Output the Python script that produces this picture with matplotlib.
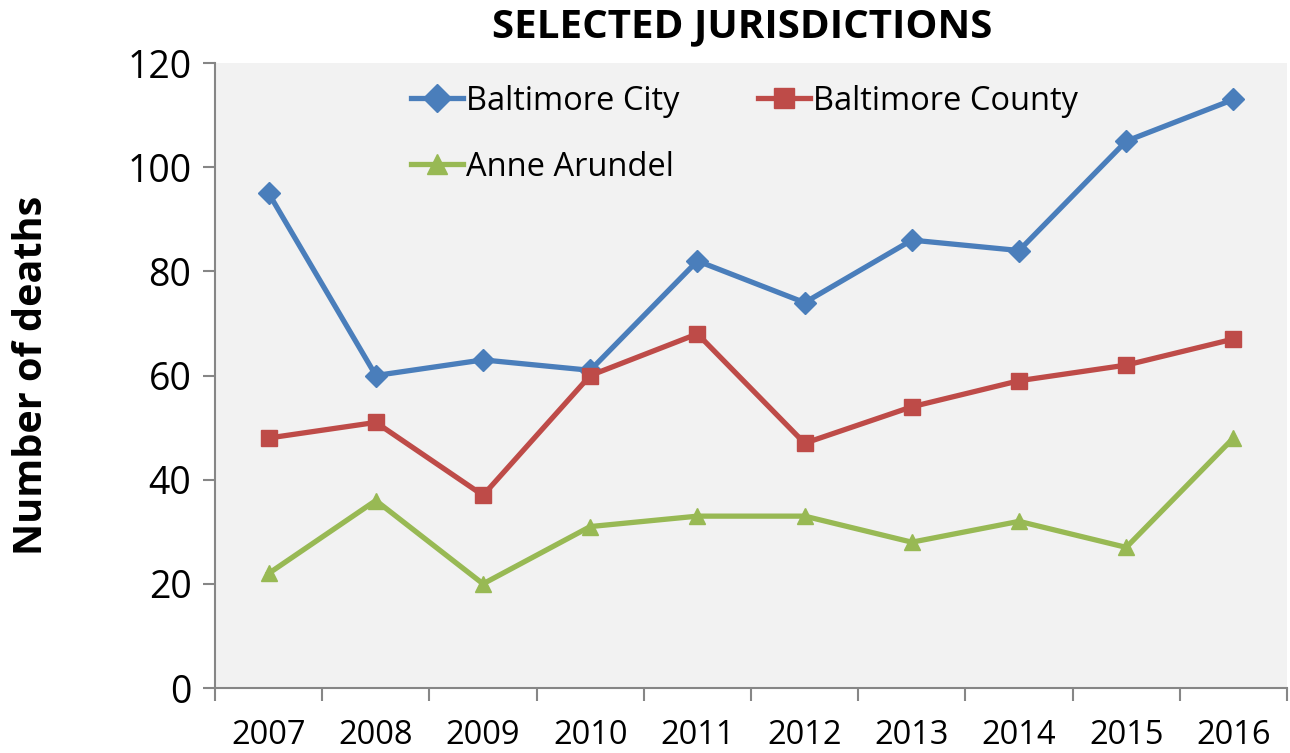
import numpy as np
import matplotlib.pyplot as plt

plt.rcParams['font.family'] = ['Open Sans', 'DejaVu Sans']

years = ['2007', '2008', '2009', '2010', '2011', '2012', '2013', '2014', '2015', '2016']
baltimore_city = [95, 60, 63, 61, 82, 74, 86, 84, 105, 113]
baltimore_county = [48, 51, 37, 60, 68, 47, 54, 59, 62, 67]
anne_arundel = [22, 36, 20, 31, 33, 33, 28, 32, 27, 48]

fig = plt.figure(figsize=(12.9, 7.53), dpi=100)
ax = fig.add_axes([0.1667, 0.0863, 0.831, 0.830])
ax.set_facecolor('#F2F2F2')

x = np.arange(len(years))
h1, = ax.plot(x, baltimore_city, '-D', color='#4A7EBB', lw=3.8, ms=11, label='Baltimore City')
h2, = ax.plot(x, baltimore_county, '-s', color='#BE4B48', lw=3.8, ms=11, label='Baltimore County')
h3, = ax.plot(x, anne_arundel, '-^', color='#98B954', lw=3.8, ms=12, label='Anne Arundel')

ax.set_xlim(-0.5, len(years) - 0.5)
ax.set_ylim(0, 120)
ax.set_yticks(range(0, 121, 20))
ax.tick_params(axis='y', labelsize=27, length=9, color='#868686', width=1.5, pad=8)
ax.set_xticks(x)
ax.set_xticklabels(years)
ax.set_xticks(np.arange(-0.5, len(years), 1), minor=True)
ax.tick_params(axis='x', which='major', length=0, labelsize=23.5, pad=22)
ax.tick_params(axis='x', which='minor', length=9, color='#868686', width=1.5)

for s in ['top', 'right']:
    ax.spines[s].set_visible(False)
for s in ['left', 'bottom']:
    ax.spines[s].set_color('#868686')
    ax.spines[s].set_linewidth(1.5)

ax.set_ylabel('Number of deaths', fontsize=28.5, fontweight='bold')
ax.yaxis.set_label_coords(-0.153, 0.5)
fig.text(0.575, 0.965, 'SELECTED JURISDICTIONS', ha='center', va='center',
         fontsize=29, fontweight='bold')

ax.legend([h1, h3, h2], ['Baltimore City', 'Anne Arundel', 'Baltimore County'],
          ncol=2, frameon=False, fontsize=23.5, loc='upper left',
          bbox_to_anchor=(0.155, 1.012), handlelength=1.6, handletextpad=0.1,
          columnspacing=2.4, labelspacing=1.0, markerscale=1.25)

fig.savefig('out.png', dpi=100)
